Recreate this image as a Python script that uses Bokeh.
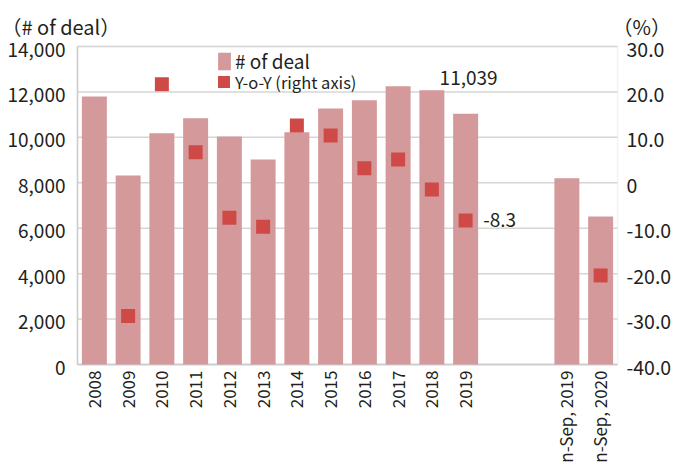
import math
from bokeh.plotting import figure
from bokeh.models import (Range1d, Label, LabelSet, Legend, LegendItem,
                          ColumnDataSource, BoxAnnotation)
from bokeh.core.properties import value
from bokeh.embed import file_html
from bokeh.resources import INLINE

# ---------------- data ----------------
categories = ["2008", "2009", "2010", "2011", "2012", "2013", "2014", "2015",
              "2016", "2017", "2018", "2019", "Jan-Sep, 2019", "Jan-Sep, 2020"]
deals = [11800, 8320, 10180, 10840, 10040, 9030, 10220, 11270,
         11630, 12250, 12070, 11039, 8200, 6520]
yoy = [float("nan"), -29.3, 21.7, 6.7, -7.7, -9.7, 12.6, 10.4,
       3.2, 5.1, -1.5, -8.3, float("nan"), -20.4]
left_ticks = [0, 2000, 4000, 6000, 8000, 10000, 12000, 14000]
right_ticks = [-40, -30, -20, -10, 0, 10, 20, 30]
series_names = ["# of deal", "Y-o-Y (right axis)"]
left_unit = "（# of deal）"
right_unit = "（%）"

# ---------------- layout ----------------
W, H = 673, 464
IN_L, IN_R, IN_T, IN_B = 77, 56, 46, 100     # plot box inset inside the canvas
GAP = 2                                       # empty slots before Jan-Sep pair
xpos = [i + (GAP if c.startswith("Jan") else 0) for i, c in enumerate(categories)]

FONT = "Noto Sans CJK JP"
TXT = "#231f20"
BAR = "#d49a9b"
MARK = "#cf4a46"
GRID = "#d6d6d6"
AXIS = "#c8c8c8"

def padded(lo, hi, pad_lo, pad_hi, span_px):
    u = (hi - lo) / span_px
    return Range1d(lo - pad_lo * u, hi + pad_hi * u)

bx0, bx1 = min(xpos) - 0.5, max(xpos) + 0.5
ly0, ly1 = left_ticks[0], left_ticks[-1]
ry0, ry1 = right_ticks[0], right_ticks[-1]
box_w, box_h = W - IN_L - IN_R, H - IN_T - IN_B

p = figure(width=W, height=H, output_backend="svg", toolbar_location=None,
           x_axis_location=None, y_axis_location=None,
           x_range=padded(bx0, bx1, IN_L, IN_R, box_w),
           y_range=padded(ly0, ly1, IN_B, IN_T, box_h),
           min_border=0)
p.extra_y_ranges = {"pct": padded(ry0, ry1, IN_B, IN_T, box_h)}
p.outline_line_color = None
p.grid.visible = False

src = ColumnDataSource(dict(x=xpos, deals=deals, yoy=yoy, cat=categories,
                            zero=[0] * len(categories)))

# plot box gridlines and frame
gl = p.segment(x0=[bx0] * len(left_ticks), x1=[bx1] * len(left_ticks),
               y0=left_ticks, y1=left_ticks, line_color=GRID, line_width=1.5)
gl.level = "underlay"
p.add_layout(BoxAnnotation(left=bx0, right=bx1, bottom=ly0, top=ly1,
                           fill_alpha=0, line_color=GRID, line_width=1.5,
                           level="underlay"))
ax = p.segment(x0=[bx0, bx0], x1=[bx0, bx1], y0=[ly0, ly0], y1=[ly1, ly0],
               line_color=AXIS, line_width=1.5)
ax.level = "underlay"

# bars and markers
bars = p.vbar(x="x", top="deals", width=0.74, source=src, fill_color=BAR, line_color=None)
pts = p.scatter(x="x", y="yoy", marker="square", size=14, source=src,
                fill_color=MARK, line_color=None, y_range_name="pct")
# hidden square swatch used only by the legend entry of the Y-o-Y markers
swatch = p.vbar(x="x", top="deals", width=0.74, source=src, fill_color=MARK,
                line_color=None, visible=False)

# tick labels
lsrc = ColumnDataSource(dict(y=left_ticks, x=[bx0] * len(left_ticks),
                             t=[f"{v:,}" for v in left_ticks]))
p.add_layout(LabelSet(x="x", y="y", text="t", source=lsrc, text_align="right",
                      text_baseline="alphabetic", x_offset=-12, y_offset=-10,
                      text_font=value(FONT), text_font_size=value("19px"),
                      text_color=TXT))
rsrc = ColumnDataSource(dict(y=right_ticks, x=[bx1] * len(right_ticks),
                             t=[("0" if v == 0 else f"{v:.1f}") for v in right_ticks]))
p.add_layout(LabelSet(x="x", y="y", text="t", source=rsrc, y_range_name="pct",
                      text_align="left", text_baseline="alphabetic",
                      x_offset=9, y_offset=-10, text_font=value(FONT),
                      text_font_size=value("19.5px"), text_color=TXT))
p.add_layout(LabelSet(x="x", y="zero", text="cat", source=src, angle=math.pi / 2,
                      text_align="right", text_baseline="alphabetic",
                      x_offset=6.5, y_offset=-6, text_font=value(FONT),
                      text_font_size=value("17px"), text_color=TXT))

# legends
leg1 = Legend(items=[LegendItem(label=series_names[0], renderers=[bars])],
              location=(216, H - 74), glyph_width=16, glyph_height=22, label_height=22,
              label_standoff=3, padding=0, margin=0, spacing=0,
              border_line_color=None, background_fill_alpha=0,
              label_text_font=FONT, label_text_font_size="19px", label_text_color=TXT)
leg2 = Legend(items=[LegendItem(label=series_names[1], renderers=[swatch])],
              location=(216, H - 93.5), glyph_width=15, glyph_height=15, label_height=15,
              label_standoff=4, padding=0, margin=0, spacing=0,
              border_line_color=None, background_fill_alpha=0,
              label_text_font=FONT, label_text_font_size="16.5px", label_text_color=TXT)
p.add_layout(leg1)
p.add_layout(leg2)

# annotations
k = categories.index("2019")
p.add_layout(Label(x=xpos[k], y=deals[k], text=f"{deals[k]:,}",
                   x_offset=3, y_offset=36, text_align="center", text_baseline="alphabetic",
                   text_font=FONT, text_font_size="19px", text_color=TXT))
p.add_layout(Label(x=xpos[k], y=yoy[k], y_range_name="pct",
                   text=f"{yoy[k]:.1f}", x_offset=17.5, y_offset=0, text_align="left",
                   text_baseline="alphabetic", text_font=FONT, text_font_size="19px",
                   text_color=TXT))
p.add_layout(Label(x=bx0, y=ly1, text=left_unit, x_offset=-76, y_offset=20,
                   text_baseline="alphabetic", text_font=FONT, text_font_size="20px",
                   text_color=TXT))
p.add_layout(Label(x=bx1, y=ly1, text=right_unit, x_offset=-5, y_offset=20,
                   text_baseline="alphabetic", text_font=FONT, text_font_size="20px",
                   text_color=TXT))

open("out.html", "w").write(file_html(p, INLINE))
